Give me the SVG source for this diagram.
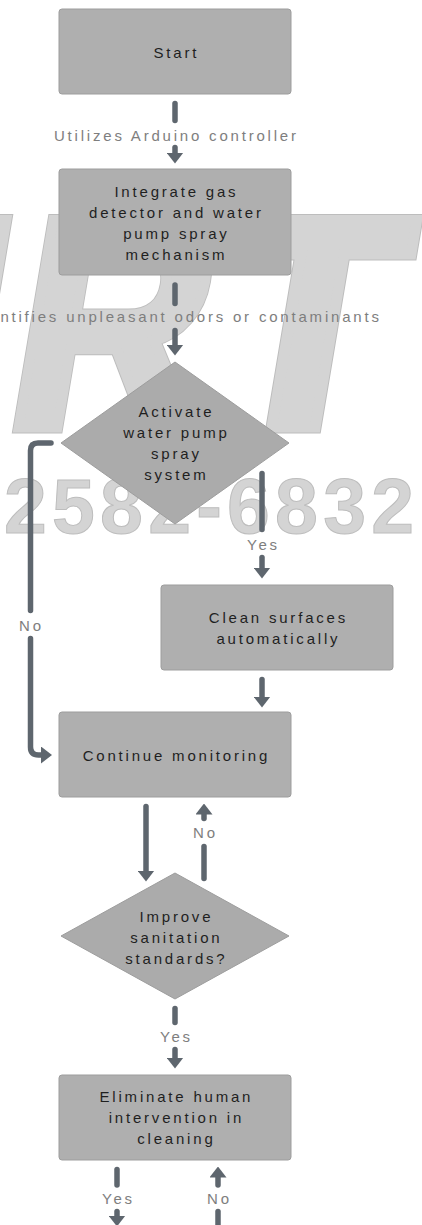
<svg xmlns="http://www.w3.org/2000/svg" width="422" height="1225" viewBox="0 0 422 1225">
<style>
.bg{fill:#ffffff}
.wmf{font-family:"Liberation Sans",Arial,sans-serif;font-weight:bold}
.wmo{fill:#bdbdbd;stroke:#bdbdbd;stroke-width:13}
.wmi{fill:#d4d4d4;stroke:#d4d4d4;stroke-width:11}
.wm{font-family:"Liberation Sans",Arial,sans-serif;font-weight:bold;fill:#d4d4d4;stroke:#bdbdbd;stroke-width:1}
.box{fill:#afafaf;stroke:#9d9d9d;stroke-width:1}
.dia{fill:#ababab;stroke:#9d9d9d;stroke-width:1}
.t{font-family:"Liberation Sans",Arial,sans-serif;font-size:15px;letter-spacing:2.8px;fill:#1f1f1f;text-anchor:middle}
.lbl{font-family:"Liberation Sans",Arial,sans-serif;font-size:15px;letter-spacing:2.8px;fill:#7e7e7e;text-anchor:middle}
.c{fill:none;stroke:#5e666e;stroke-width:5.5;stroke-linecap:round;stroke-linejoin:round}
</style>
<defs>
<marker id="ah" markerUnits="userSpaceOnUse" markerWidth="11" markerHeight="17" viewBox="0 0 11 17" refX="0.5" refY="8.5" orient="auto">
<path d="M0,0 L11,8.5 L0,17 z" fill="#5e666e"/>
</marker>
<g id="wmIRT" class="wmf" transform="translate(0,427) skewX(-9.5)">
<text x="-92" y="0" font-size="300">I</text>
<text x="-1" y="0" font-size="300" transform="translate(15,0) scale(0.9,1) translate(-15,0)">R</text>
<text x="202" y="0" font-size="300">T</text>
</g>
</defs>
<rect class="bg" x="0" y="0" width="422" height="1225"/>
<g id="watermark">
<use href="#wmIRT" class="wmo"/>
<use href="#wmIRT" class="wmi"/>
<text class="wm" x="4" y="533" font-size="77" textLength="410" lengthAdjust="spacing">2582-6832</text>
</g>
<g id="connectors">
<line class="c" x1="175" y1="103.5" x2="175" y2="120.5"/>
<text class="lbl" x="176.4" y="141">Utilizes Arduino controller</text>
<path class="c" d="M175,147.5 V153" marker-end="url(#ah)"/>
<line class="c" x1="175" y1="285" x2="175" y2="303.5"/>
<text class="lbl" x="176.4" y="322">Identifies unpleasant odors or contaminants</text>
<path class="c" d="M175,330.5 V345" marker-end="url(#ah)"/>
<line class="c" x1="262" y1="473.5" x2="262" y2="529.5"/>
<text class="lbl" x="263.4" y="550">Yes</text>
<path class="c" d="M262,557.5 V568" marker-end="url(#ah)"/>
<path class="c" d="M51,443 H38 Q30.5,443 30.5,450.5 V610.5"/>
<text class="lbl" x="31.4" y="631">No</text>
<path class="c" d="M30.5,638.5 V747 Q30.5,755 38.5,755 H41.5" marker-end="url(#ah)"/>
<path class="c" d="M262,679.5 V697" marker-end="url(#ah)"/>
<path class="c" d="M146,806.5 V871" marker-end="url(#ah)"/>
<line class="c" x1="204" y1="846.5" x2="204" y2="878.5"/>
<text class="lbl" x="205.4" y="838">No</text>
<path class="c" d="M204,818.5 V814" marker-end="url(#ah)"/>
<line class="c" x1="175" y1="1008.5" x2="175" y2="1022.5"/>
<text class="lbl" x="176.4" y="1042">Yes</text>
<path class="c" d="M175,1049.5 V1058" marker-end="url(#ah)"/>
<line class="c" x1="117" y1="1169.5" x2="117" y2="1185"/>
<text class="lbl" x="118.4" y="1204">Yes</text>
<path class="c" d="M117,1211.5 V1216" marker-end="url(#ah)"/>
<path class="c" d="M218,1185 V1177" marker-end="url(#ah)"/>
<text class="lbl" x="219.4" y="1204">No</text>
<line class="c" x1="218" y1="1211.5" x2="218" y2="1230"/>
</g>
<g id="node-start">
<rect class="box" x="59" y="9" width="232" height="85" rx="3"/>
<text class="t" x="176.4" y="58">Start</text>
</g>
<g id="node-integrate">
<rect class="box" x="59" y="169" width="232" height="106" rx="3"/>
<text class="t" x="176.4" y="197">Integrate gas</text>
<text class="t" x="176.4" y="218">detector and water</text>
<text class="t" x="176.4" y="239">pump spray</text>
<text class="t" x="176.4" y="260">mechanism</text>
</g>
<g id="node-activate">
<polygon class="dia" points="175,362 289,443 175,524 61,443"/>
<text class="t" x="176.4" y="417">Activate</text>
<text class="t" x="176.4" y="438">water pump</text>
<text class="t" x="176.4" y="459">spray</text>
<text class="t" x="176.4" y="480">system</text>
</g>
<g id="node-clean">
<rect class="box" x="161" y="585" width="232" height="85" rx="3"/>
<text class="t" x="278.4" y="623">Clean surfaces</text>
<text class="t" x="278.4" y="644">automatically</text>
</g>
<g id="node-continue">
<rect class="box" x="59" y="712" width="232" height="85" rx="3"/>
<text class="t" x="176.4" y="761">Continue monitoring</text>
</g>
<g id="node-improve">
<polygon class="dia" points="175,873 289,936 175,999 61,936"/>
<text class="t" x="176.4" y="922">Improve</text>
<text class="t" x="176.4" y="943">sanitation</text>
<text class="t" x="176.4" y="964">standards?</text>
</g>
<g id="node-eliminate">
<rect class="box" x="59" y="1075" width="232" height="85" rx="3"/>
<text class="t" x="176.4" y="1102">Eliminate human</text>
<text class="t" x="176.4" y="1123">intervention in</text>
<text class="t" x="176.4" y="1144">cleaning</text>
</g>
</svg>
